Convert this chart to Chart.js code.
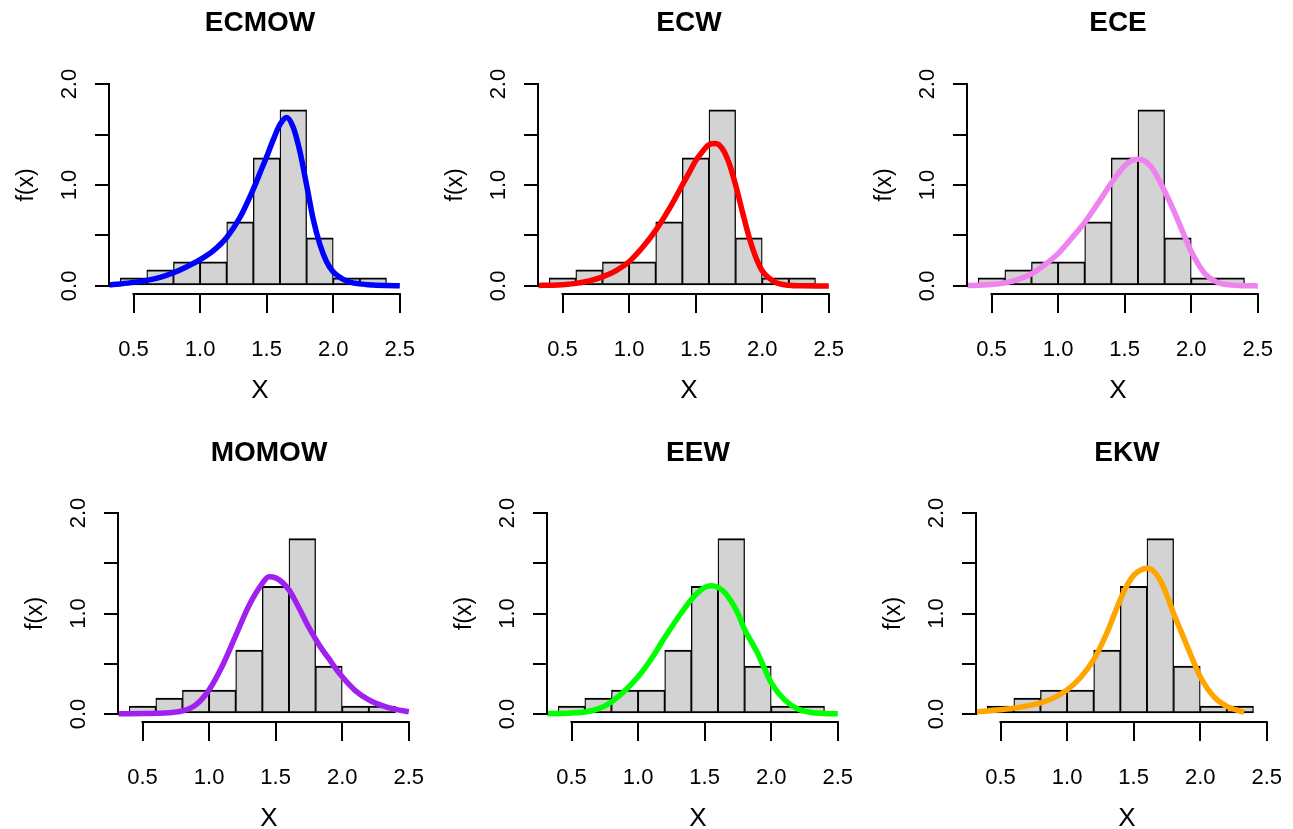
<!DOCTYPE html>
<html>
<head>
<meta charset="utf-8">
<title>Fitted densities</title>
<script src="https://cdn.jsdelivr.net/npm/chart.js@4.4.1/dist/chart.umd.min.js"></script>
<style>
    html, body { margin: 0; padding: 0; background: #fff; overflow: hidden; }
    body { width: 1293px; height: 829px; position: relative; }
    .panel { position: absolute; }
</style>
</head>
<body>
<div class="panel" id="p0"><canvas id="c0"></canvas></div>
<div class="panel" id="p1"><canvas id="c1"></canvas></div>
<div class="panel" id="p2"><canvas id="c2"></canvas></div>
<div class="panel" id="p3"><canvas id="c3"></canvas></div>
<div class="panel" id="p4"><canvas id="c4"></canvas></div>
<div class="panel" id="p5"><canvas id="c5"></canvas></div>
<script>
// histogram (same data in every panel)
const binCenters = [0.5, 0.7, 0.9, 1.1, 1.3, 1.5, 1.7, 1.9, 2.1, 2.3];
const binDensity = [0.0794, 0.1587, 0.2381, 0.2381, 0.6349, 1.2698, 1.7460, 0.4762, 0.0794, 0.0794];

// axis ticks
const xTickValues = [0.5, 1.0, 1.5, 2.0, 2.5];
const xTickLabels = ['0.5', '1.0', '1.5', '2.0', '2.5'];
const yTickValues = [0, 0.5, 1.0, 1.5, 2.0];
const yTickLabels = ['0.0', '', '1.0', '', '2.0'];

// fitted density curves
const titles = ['ECMOW', 'ECW', 'ECE', 'MOMOW', 'EEW', 'EKW'];
const curveColors = ['#0000ff', '#ff0000', '#ee82ee', '#a020f0', '#00ff00', '#ffa500'];

const curveX = [0.32, 0.4, 0.5, 0.6, 0.7, 0.8, 0.9, 1.0, 1.1, 1.2, 1.3, 1.4, 1.45, 1.5, 1.55,
                1.6, 1.65, 1.7, 1.75, 1.8, 1.85, 1.9, 1.95, 2.0, 2.1, 2.2, 2.3, 2.4, 2.5];
const ekwX   = [0.32, 0.4, 0.5, 0.6, 0.7, 0.8, 0.9, 1.0, 1.1, 1.2, 1.3, 1.4, 1.45, 1.5, 1.55,
                1.6, 1.65, 1.7, 1.75, 1.8, 1.85, 1.9, 1.95, 2.0, 2.1, 2.2, 2.33];

const ecmowY = [0.01, 0.02, 0.035, 0.055, 0.085, 0.13, 0.19, 0.26, 0.35, 0.48, 0.68, 0.96, 1.12, 1.28, 1.45,
                1.60, 1.67, 1.57, 1.33, 1.0, 0.66, 0.41, 0.24, 0.14, 0.05, 0.02, 0.008, 0.003, 0.001];
const ecwY   = [0.005, 0.007, 0.012, 0.025, 0.05, 0.09, 0.15, 0.24, 0.38, 0.55, 0.76, 1.0, 1.12, 1.24, 1.33,
                1.40, 1.41, 1.36, 1.22, 1.0, 0.74, 0.49, 0.29, 0.15, 0.035, 0.007, 0.001, 0, 0];
const eceY   = [0.004, 0.007, 0.013, 0.03, 0.065, 0.12, 0.21, 0.32, 0.47, 0.63, 0.82, 1.02, 1.11, 1.19, 1.24,
                1.255, 1.24, 1.18, 1.07, 0.94, 0.80, 0.65, 0.49, 0.34, 0.125, 0.033, 0.008, 0.002, 0];
const momowY = [0.001, 0.002, 0.004, 0.007, 0.013, 0.03, 0.09, 0.24, 0.48, 0.78, 1.08, 1.30, 1.365, 1.355, 1.31,
                1.235, 1.12, 0.99, 0.86, 0.745, 0.64, 0.55, 0.455, 0.37, 0.23, 0.14, 0.083, 0.045, 0.022];
const eewY   = [0.003, 0.005, 0.01, 0.02, 0.05, 0.12, 0.23, 0.37, 0.55, 0.76, 0.96, 1.14, 1.21, 1.26, 1.275,
                1.26, 1.21, 1.12, 1.0, 0.84, 0.72, 0.60, 0.45, 0.31, 0.14, 0.05, 0.015, 0.005, 0.002];
const ekwY   = [0.023, 0.03, 0.042, 0.058, 0.08, 0.11, 0.16, 0.24, 0.36, 0.54, 0.81, 1.14, 1.28, 1.38, 1.43,
                1.45, 1.42, 1.33, 1.18, 1.0, 0.84, 0.68, 0.52, 0.37, 0.175, 0.076, 0.017];

const curveXs = [curveX, curveX, curveX, curveX, curveX, ekwX];
const curveYs = [ecmowY, ecwY, eceY, momowY, eewY, ekwY];

// panel placement: [left, top, width, height, title padding top, title padding bottom]
const panelBoxes = [
    [4,   0,   419, 414, 6.2, 36.2],
    [433, 0,   419, 414, 6.2, 36.2],
    [862, 0,   419, 414, 6.2, 36.2],
    [13,  415, 419, 427, 21.2, 35.2],
    [442, 415, 419, 427, 21.2, 35.2],
    [871, 415, 419, 427, 21.2, 35.2]
];

Chart.defaults.font.family = '"Liberation Sans", Arial, sans-serif';
Chart.defaults.color = '#000';

// R style axes: lines only between the first and last tick
const axisLines = {
    id: 'axisLines',
    afterDraw(chart) {
        const {ctx, chartArea, scales} = chart;
        const x = scales.x, y = scales.y;
        ctx.save();
        ctx.strokeStyle = '#000';
        ctx.lineWidth = 2;
        ctx.lineCap = 'square';
        ctx.beginPath();
        ctx.moveTo(x.getPixelForValue(xTickValues[0]), chartArea.bottom);
        ctx.lineTo(x.getPixelForValue(xTickValues[xTickValues.length - 1]), chartArea.bottom);
        ctx.moveTo(chartArea.left, y.getPixelForValue(yTickValues[0]));
        ctx.lineTo(chartArea.left, y.getPixelForValue(yTickValues[yTickValues.length - 1]));
        ctx.stroke();
        ctx.restore();
    }
};

function buildPanel(i) {
    const box = panelBoxes[i];
    const wrap = document.getElementById('p' + i);
    wrap.style.left = box[0] + 'px';
    wrap.style.top = box[1] + 'px';
    wrap.style.width = box[2] + 'px';
    wrap.style.height = box[3] + 'px';

    const curve = curveXs[i].map((v, k) => ({x: v, y: curveYs[i][k]}));
    const bars = binCenters.map((v, k) => ({x: v, y: binDensity[k]}));

    new Chart(document.getElementById('c' + i), {
        type: 'bar',
        data: {
            datasets: [{
                type: 'line',
                data: curve,
                borderColor: curveColors[i],
                borderWidth: 5.5,
                pointRadius: 0,
                cubicInterpolationMode: 'monotone',
                fill: false,
                order: 0
            }, {
                type: 'bar',
                data: bars,
                backgroundColor: '#d3d3d3',
                borderColor: '#000',
                borderWidth: {top: 2, bottom: 2, left: 1.3, right: 1.3},
                borderSkipped: false,
                barPercentage: 1,
                categoryPercentage: 1,
                order: 1
            }]
        },
        options: {
            responsive: true,
            maintainAspectRatio: false,
            animation: false,
            layout: {padding: {right: 12}},
            plugins: {
                legend: {display: false},
                tooltip: {enabled: false},
                title: {
                    display: true,
                    text: titles[i],
                    fullSize: false,
                    font: {size: 28, weight: 'bold'},
                    padding: {top: box[4], bottom: box[5]}
                }
            },
            scales: {
                x: {
                    type: 'linear',
                    min: 0.316,
                    max: 2.584,
                    offset: false,
                    afterBuildTicks: s => { s.ticks = xTickValues.map(v => ({value: v})); },
                    afterFit: s => { s.height = 120; s.paddingLeft = 0; s.paddingRight = 0; },
                    grid: {offset: false, drawOnChartArea: false, tickLength: 19, color: '#000', lineWidth: 2},
                    border: {display: false},
                    ticks: {
                        padding: 24,
                        maxRotation: 0,
                        autoSkip: false,
                        font: {size: 22},
                        callback: (v, k) => xTickLabels[k]
                    },
                    title: {display: true, text: 'X', font: {size: 26}, padding: {top: 0, bottom: 8}}
                },
                y: {
                    min: -0.08,
                    max: 2.08,
                    afterBuildTicks: s => { s.ticks = yTickValues.map(v => ({value: v})); },
                    afterFit: s => { s.width = 105; s.paddingTop = 0; s.paddingBottom = 0; },
                    grid: {drawOnChartArea: false, tickLength: 14, color: '#000', lineWidth: 2},
                    border: {display: false},
                    ticks: {
                        minRotation: 90,
                        maxRotation: 90,
                        crossAlign: 'center',
                        padding: 10,
                        font: {size: 22},
                        callback: (v, k) => yTickLabels[k]
                    },
                    title: {display: true, text: 'f(x)', font: {size: 23}, padding: {top: 9, bottom: 0}}
                }
            }
        },
        plugins: [axisLines]
    });
}

for (let i = 0; i < titles.length; i++) {
    buildPanel(i);
}
</script>
</body>
</html>
